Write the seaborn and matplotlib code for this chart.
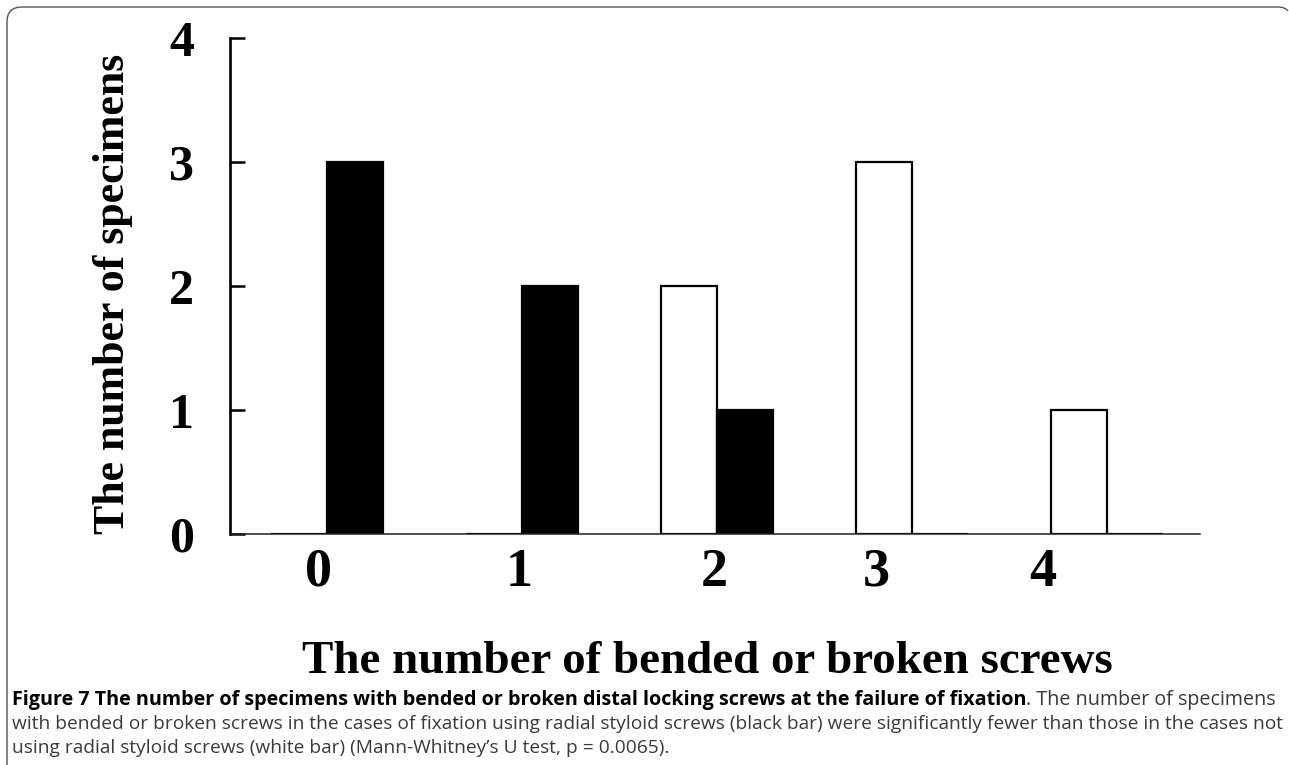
import numpy as np
import pandas as pd
import matplotlib
matplotlib.use("Agg")
import matplotlib.pyplot as plt
import seaborn as sns
from matplotlib.path import Path
from matplotlib.patches import PathPatch

# -----------------------------
# Data
# -----------------------------
screw_counts = ["0", "1", "2", "3", "4"]
not_using_rss = [0, 0, 2, 3, 1]    # white bars
using_rss = [3, 2, 1, 0, 0]        # black bars
y_ticks = [0, 1, 2, 3, 4]

groups = ["not using", "using"]
df = pd.DataFrame({
    "screws": screw_counts * 2,
    "specimens": not_using_rss + using_rss,
    "group": [groups[0]] * len(screw_counts) + [groups[1]] * len(screw_counts),
})

W, H = 1289, 765
sns.set_style("ticks")
plt.rcParams["font.family"] = ["Liberation Serif", "DejaVu Serif"]
plt.rcParams.update({"text.color": "black", "axes.labelcolor": "black",
                     "xtick.color": "black", "ytick.color": "black"})

fig = plt.figure(figsize=(W / 100, H / 100), dpi=100)
ax = fig.add_axes([230 / W, 1 - 534 / H, 970 / W, 496 / H])

sns.barplot(data=df, x="screws", y="specimens", hue="group",
            order=screw_counts, hue_order=groups,
            palette={groups[0]: "white", groups[1]: "black"},
            edgecolor="black", linewidth=1.6, width=0.574,
            legend=False, ax=ax)

ax.set_xlim(-0.497, 4.477)
ax.set_ylim(0, 4)
ax.set_yticks(y_ticks)
ax.set_yticklabels([str(v) for v in y_ticks], fontsize=36, fontweight="bold")

# x labels were placed by hand in the original, a bit off the group centres
label_pos = [-0.041, 0.985, 1.985, 2.815, 3.672]
ax.set_xticks(label_pos)
ax.set_xticklabels(screw_counts, fontsize=39, fontweight="bold")

ax.tick_params(axis="y", direction="in", length=11, width=1.8, pad=26,
               colors="black", labelcolor="black")
ax.tick_params(axis="x", length=0, pad=10, labelcolor="black")
sns.despine(ax=ax)
ax.spines["left"].set_linewidth(1.9)
ax.spines["left"].set_color("black")
ax.spines["bottom"].set_linewidth(1.1)
ax.spines["bottom"].set_color("#222222")

ax.set_ylabel("The number of specimens", fontsize=34, fontweight="bold", color="black")
ax.set_xlabel("The number of bended or broken screws", fontsize=44,
              fontweight="bold", color="black")
ax.yaxis.label.set_verticalalignment("center")
ax.xaxis.label.set_verticalalignment("center")
ax.yaxis.set_label_coords((113 - 230) / 970, (534 - 294) / 496)
ax.xaxis.set_label_coords((707 - 230) / 970, (534 - 662) / 496)

renderer = fig.canvas.get_renderer()


def fit(t, target, vertical=False):
    bb = t.get_window_extent(renderer)
    size = bb.height if vertical else bb.width
    t.set_fontsize(t.get_fontsize() * target / size)


fit(ax.xaxis.label, 812)
fit(ax.yaxis.label, 480, vertical=True)

# -----------------------------
# Caption
# -----------------------------
def fx(x):
    return x / W


def fy(y):
    return 1 - y / H


cap_font = ["Open Sans", "DejaVu Sans"]
bold_part = ("Figure 7 The number of specimens with bended or broken distal "
             "locking screws at the failure of fixation")
line1_rest = ". The number of specimens"
line2 = ("with bended or broken screws in the cases of fixation using radial styloid "
         "screws (black bar) were significantly fewer than those in the cases not")
line3 = "using radial styloid screws (white bar) (Mann-Whitney\u2019s U test, p = 0.0065)."

t2 = fig.text(fx(12), fy(724), line2, fontsize=11, family=cap_font,
              color="#3a3a3a", va="center", ha="left")
fit(t2, 1271)
cap_size = t2.get_fontsize()
fig.text(fx(12), fy(748), line3, fontsize=cap_size, family=cap_font,
         color="#3a3a3a", va="center", ha="left")

tb = fig.text(fx(12), fy(700), bold_part, fontsize=cap_size, family=cap_font,
              fontweight="bold", color="black", va="center", ha="left")
tr = fig.text(0, fy(700), line1_rest, fontsize=cap_size, family=cap_font,
              color="#3a3a3a", va="center", ha="left")
wb = tb.get_window_extent(renderer).width
wr = tr.get_window_extent(renderer).width
scale = 1271 / (wb + wr)
tb.set_fontsize(cap_size * scale)
tr.set_fontsize(cap_size * scale)
wb = tb.get_window_extent(renderer).width
tr.set_x(fx(12 + wb))

# rounded frame (left edge and top edge only)
verts = [(fx(7), fy(765)), (fx(7), fy(22)),
         (fx(7), fy(7)), (fx(22), fy(7)),
         (fx(1278), fy(7)),
         (fx(1285), fy(7)), (fx(1288), fy(11))]
codes = [Path.MOVETO, Path.LINETO, Path.CURVE3, Path.CURVE3,
         Path.LINETO, Path.CURVE3, Path.CURVE3]
fig.patches.append(PathPatch(Path(verts, codes), transform=fig.transFigure,
                             fill=False, edgecolor="#555555", linewidth=1.0))

fig.savefig("out.png", dpi=100)
